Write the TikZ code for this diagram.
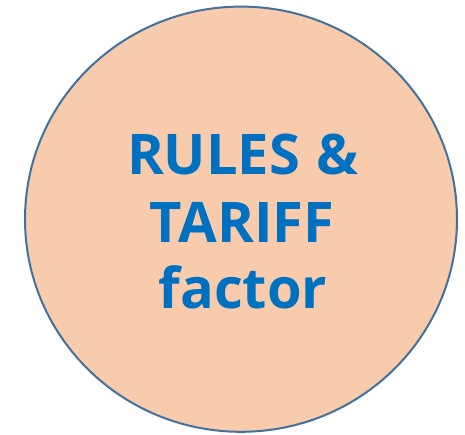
\documentclass[tikz,border=0pt]{standalone}
\usepackage{fontspec}
\setmainfont{Open Sans}
\definecolor{peach}{HTML}{F8CBAD}
\definecolor{rim}{HTML}{41719C}
\definecolor{txtblue}{HTML}{0070C0}
\tikzset{
  ball/.style={fill=peach, draw=rim, line width=2pt},
  bigtext/.style={anchor=base, inner sep=0pt, text=txtblue, font=\fontsize{56}{67}\selectfont\bfseries}
}
\begin{document}
\begin{tikzpicture}[x=1pt,y=-1pt]
\useasboundingbox (0,0) rectangle (465,434);
\path[ball] (241,219.2) ellipse [x radius=216, y radius=212.6];
\node[bigtext] (l1) at (243,174) {RULES\hspace{0.3em}\&};
\node[bigtext] (l2) at (242,242) {TARIFF};
\node[bigtext] (l3) at (243,308) {factor};
\end{tikzpicture}
\end{document}
